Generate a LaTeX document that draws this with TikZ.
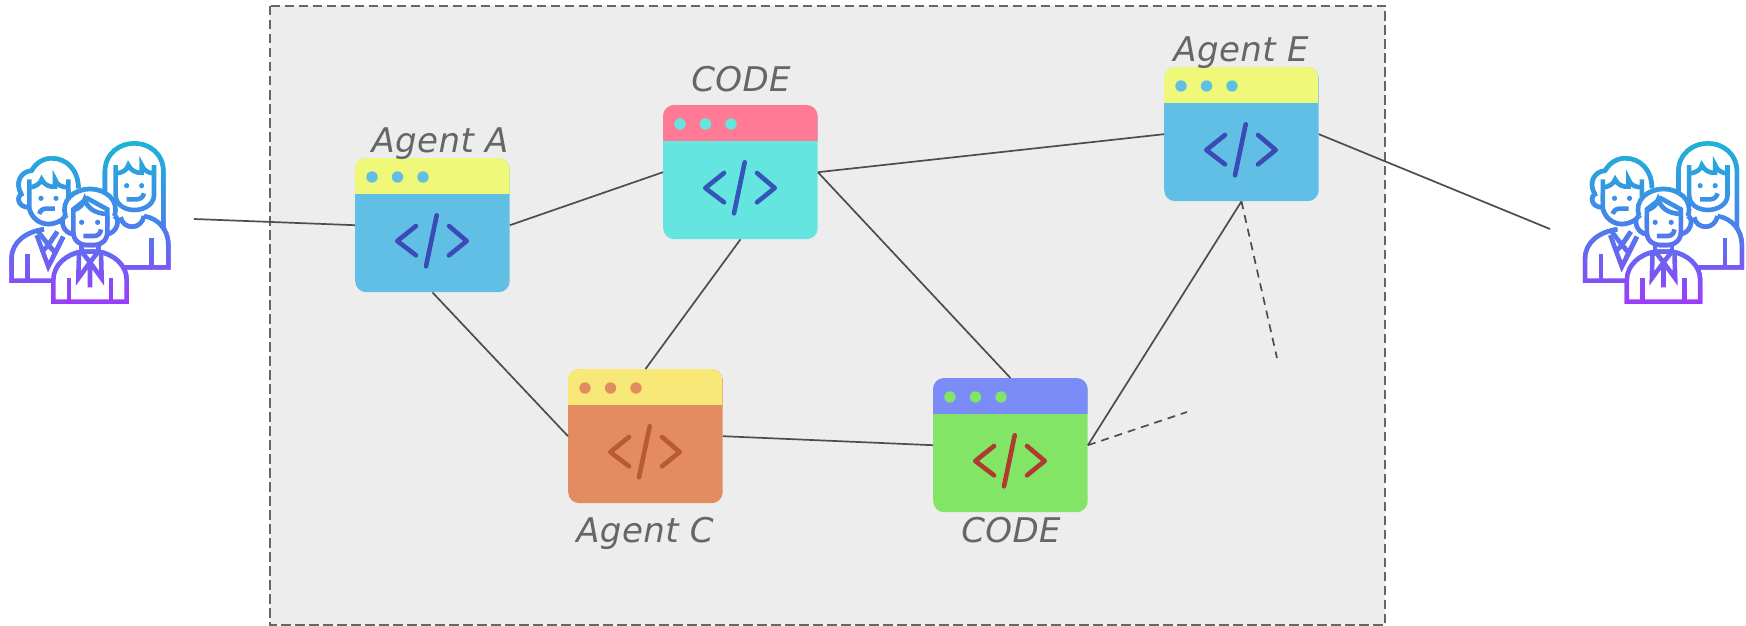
\documentclass[tikz,border=0pt]{standalone}
\usepackage{fontspec}
\setmainfont{DejaVu Sans}[LetterSpace=1.3]
\definecolor{framefill}{HTML}{EDEDED}
\definecolor{frameline}{HTML}{666666}
\definecolor{conn}{HTML}{4D4D4D}
\definecolor{labelc}{HTML}{666666}
\definecolor{yel}{HTML}{EFF878}
\definecolor{blu}{HTML}{61BFE5}
\definecolor{ind}{HTML}{3A4BB5}
\definecolor{rosy}{HTML}{FF7B95}
\definecolor{tea}{HTML}{64E5E0}
\definecolor{indb}{HTML}{3555B8}
\definecolor{yelb}{HTML}{F8E878}
\definecolor{ora}{HTML}{E38C62}
\definecolor{bro}{HTML}{B85A35}
\definecolor{per}{HTML}{7B8CF8}
\definecolor{gre}{HTML}{82E566}
\definecolor{brick}{HTML}{B03A30}
\definecolor{gradA}{RGB}{28,180,214}
\definecolor{gradB}{RGB}{66,135,235}
\definecolor{gradC}{RGB}{155,60,250}
\tikzset{
  winbox/.style={rectangle,rounded corners=11pt,minimum width=154.5pt,minimum height=134pt,inner sep=0pt,anchor=north west},
  lab/.style={anchor=base,inner sep=0pt,text=labelc,font=\fontsize{34}{40}\selectfont\itshape},
  link/.style={draw=conn,line width=1.7pt},
  dlink/.style={draw=conn,line width=1.7pt,dash pattern=on 8pt off 6pt},
  codeglyph/.style={line width=4.6pt,line cap=round,line join=round},
  plain/.style={line width=4.6pt,fill=white,line join=miter},
  strk/.style={line width=4.6pt},
}
\newcommand{\codewin}[6]{%
  \node[winbox,fill=#5] (#1) at (#2,#3) {};
  \begin{scope}[shift={(#2,#3)}]
    \begin{scope}
      \clip[rounded corners=11pt] (0,0) rectangle (154.5,134);
      \fill[#4] (0,0) rectangle (154.5,36);
    \end{scope}
    \foreach \dx in {17,42.5,68} \fill[#5] (\dx,19) circle[radius=5.7pt];
    \draw[#6,codeglyph] (61,68) -- (42.3,83) -- (61,97.3);
    \draw[#6,codeglyph] (81.7,57.3) -- (71,108.3);
    \draw[#6,codeglyph] (94,68) -- (111.7,83) -- (94,97.3);
  \end{scope}}
\newcommand{\peopledraw}{%
  % woman
  \filldraw[plain] (315,240) -- (315,125) .. controls (315,70) and (360,40) .. (403,40) .. controls (446,40) and (490,70) .. (490,125) -- (490,295);
  \filldraw[plain] (432,258) .. controls (475,265) and (505,300) .. (505,345) -- (505,412) -- (370,412);
  \draw[strk] (455,325) -- (455,412);
  \filldraw[plain] (362,262) .. controls (370,300) and (425,300) .. (432,258);
  \filldraw[plain] (347,105) -- (347,195) .. controls (347,225) and (375,240) .. (403,240) .. controls (430,240) and (462,225) .. (462,195) -- (462,105);
  \draw[strk] (347,130) .. controls (365,130) and (382,120) .. (385,105) .. controls (392,122) and (410,130) .. (425,128) -- (425,105) .. controls (430,120) and (445,130) .. (462,130);
  \fill (380,167) circle[radius=2.6pt] (425,167) circle[radius=2.6pt];
  \draw[strk] (380,208) -- (410,208) .. controls (422,208) and (430,200) .. (432,190);
  % man
  \filldraw[plain] (132,298) .. controls (80,305) and (35,335) .. (35,385) -- (35,452) -- (170,452);
  \draw[strk] (82,372) -- (82,452);
  \draw[strk] (110,315) -- (145,410) -- (190,320);
  \draw[strk] (115,305) -- (145,345) -- (172,305) (125,367) -- (145,345) -- (165,367);
  \filldraw[plain] (64,192) .. controls (45,160) and (60,125) .. (95,122) .. controls (110,95) and (135,85) .. (155,85) .. controls (200,85) and (235,120) .. (235,175);
  \filldraw[plain] (70,190) .. controls (48,195) and (50,232) .. (88,232);
  \filldraw[plain] (88,148) -- (88,235) .. controls (95,265) and (120,282) .. (145,282) .. controls (170,282) and (205,265) .. (205,235) -- (205,148);
  \draw[strk] (88,172) .. controls (105,172) and (122,160) .. (125,148) .. controls (132,165) and (150,172) .. (165,170) -- (165,148) .. controls (170,165) and (185,172) .. (205,172);
  \fill (123,205) circle[radius=2.6pt] (168,205) circle[radius=2.6pt];
  \draw[strk] (118,252) .. controls (120,242) and (128,236) .. (138,236) -- (165,236);
  % boy
  \filldraw[plain] (160,515) -- (160,450) .. controls (160,405) and (200,372) .. (245,365) -- (295,365) .. controls (340,372) and (380,405) .. (380,450) -- (380,515) -- cycle;
  \draw[strk] (207,445) -- (207,515) (333,445) -- (333,515);
  \draw[strk] (237,370) -- (235,445) -- (270,397) -- (305,445) -- (303,370);
  \draw[strk] (245,365) -- (270,397) -- (295,365) (270,397) -- (270,472);
  \filldraw[plain] (197,258) .. controls (180,210) and (225,177) .. (270,177) .. controls (315,177) and (360,210) .. (343,258);
  \filldraw[plain] (197,258) .. controls (178,265) and (188,312) .. (222,312);
  \filldraw[plain] (343,258) .. controls (362,265) and (352,312) .. (318,312);
  \filldraw[plain] (220,238) -- (220,305) .. controls (220,332) and (240,345) .. (258,345) -- (284,345) .. controls (302,345) and (322,332) .. (322,305) -- (322,238) -- (262,205) -- cycle;
  \draw[strk] (220,240) .. controls (235,238) and (250,225) .. (254,208) .. controls (262,232) and (280,250) .. (322,252);
  \draw[strk] (245,345) -- (245,365) (295,345) -- (295,365);
  \fill (245,277) circle[radius=2.6pt] (293,277) circle[radius=2.6pt];
  \draw[strk] (250,318) -- (282,318) .. controls (294,318) and (302,310) .. (303,298);
}
\newcommand{\people}[2]{%
  \begin{scope}[shift={(#1,#2)},x=0.33333pt,y=-0.33333pt]
    \foreach \yy [evaluate=\yy as \tt using {min(100,max(0,(\yy-30)/2.3))},
                  evaluate=\yy as \uu using {min(100,max(0,(\yy-260)/2.6))}] in {30,36,...,522}{
      \pgfmathsetmacro{\pa}{100-\tt}
      \pgfmathsetmacro{\pb}{\uu}
      \colorlet{bandtmp}{gradA!\pa!gradB}
      \ifdim\yy pt>260pt \colorlet{bandtmp}{gradC!\pb!gradB}\fi
      \begin{scope}
        \clip (0,\yy) rectangle (540,\yy+9);
        \begin{scope}[draw=bandtmp,text=bandtmp,color=bandtmp]
          \peopledraw
        \end{scope}
      \end{scope}
    }
  \end{scope}}
\begin{document}
\begin{tikzpicture}[x=1pt,y=-1pt]
\useasboundingbox (0,0) rectangle (1746,626);
\fill[white] (0,0) rectangle (1746,626);
\path[fill=framefill,draw=frameline,line width=2pt,dash pattern=on 9.5pt off 4.5pt] (270,6) rectangle (1385,625);
\people{0}{130}
\people{1573.5}{130}
\codewin{agA}{355}{158}{yel}{blu}{ind}
\codewin{codeT}{663}{105}{rosy}{tea}{indb}
\codewin{agE}{1164}{67}{yel}{blu}{ind}
\codewin{agC}{568}{369}{yelb}{ora}{bro}
\codewin{codeG}{933}{378}{per}{gre}{brick}
\node[lab] (labA) at (440,152.5) {Agent A};
\node[lab] (labT) at (741,92) {CODE};
\node[lab] (labE) at (1241,62) {Agent E};
\node[lab] (labC) at (645,542) {Agent C};
\node[lab] (labG) at (1011,542) {CODE};
\coordinate (usersL) at (194,219);
\coordinate (usersR) at (1550,229);
\coordinate (freeG) at (1187,412);
\coordinate (freeE) at (1277,358);
\draw[link] (usersL) -- (agA.west);
\draw[link] (agA.east) -- (codeT.west);
\draw[link] (codeT.east) -- (agE.west);
\draw[link] (codeT.east) -- (codeG.north);
\draw[link] (codeT.south) -- (agC.north);
\draw[link] (agA.south) -- (agC.west);
\draw[link] (agC.east) -- (codeG.west);
\draw[link] (codeG.east) -- (agE.south);
\draw[link] (agE.east) -- (usersR);
\draw[dlink] (codeG.east) -- (freeG);
\draw[dlink] (agE.south) -- (freeE);
\end{tikzpicture}
\end{document}
